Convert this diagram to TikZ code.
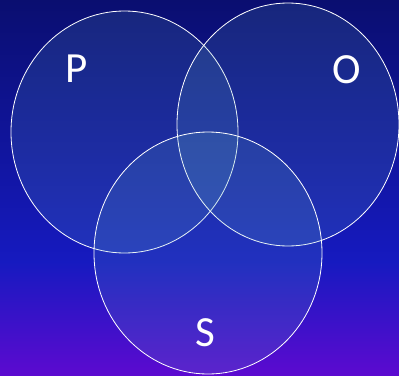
\documentclass[tikz,border=0pt]{standalone}
\usepackage{fontspec}
\setmainfont{Carlito}
\usepackage{tikz}
\usetikzlibrary{positioning, shapes.geometric}
\definecolor{bgtop}{RGB}{10, 14, 112}
\definecolor{bgmid}{RGB}{22, 26, 192}
\definecolor{bgbottom}{RGB}{92, 10, 208}
\definecolor{setfill}{RGB}{100, 180, 190}

\begin{document}
\begin{tikzpicture}[x=1pt, y=-1pt, font=\fontsize{43}{43}\selectfont]
        % Background
        \shade[top color=bgtop, bottom color=bgmid] (0,0) rectangle (399,262);
        \shade[top color=bgmid, bottom color=bgbottom] (0,261.5) rectangle (399,375);
        \useasboundingbox (0,0) rectangle (399,375);
        % P
        \node[ellipse, draw=white, line width=0.8pt, fill=setfill, fill opacity=0.15,
              minimum width=227pt, minimum height=242pt] (pset)
              at (124.5,132) {};
        % O
        \node[ellipse, draw=white, line width=0.8pt, fill=setfill, fill opacity=0.15,
              minimum width=222pt, minimum height=243pt] (oset)
              at (288,124.5) {};
        % S
        \node[ellipse, draw=white, line width=0.8pt, fill=setfill, fill opacity=0.15,
              minimum width=228pt, minimum height=242pt] (sset)
              at (208,253) {};
        % labels
        \node[text=white] (plabel) at (76.5,69) {P};
        \node[text=white] (olabel) at (346.5,70) {O};
        \node[text=white] (slabel) at (205,333) {S};
      \end{tikzpicture}
\end{document}
